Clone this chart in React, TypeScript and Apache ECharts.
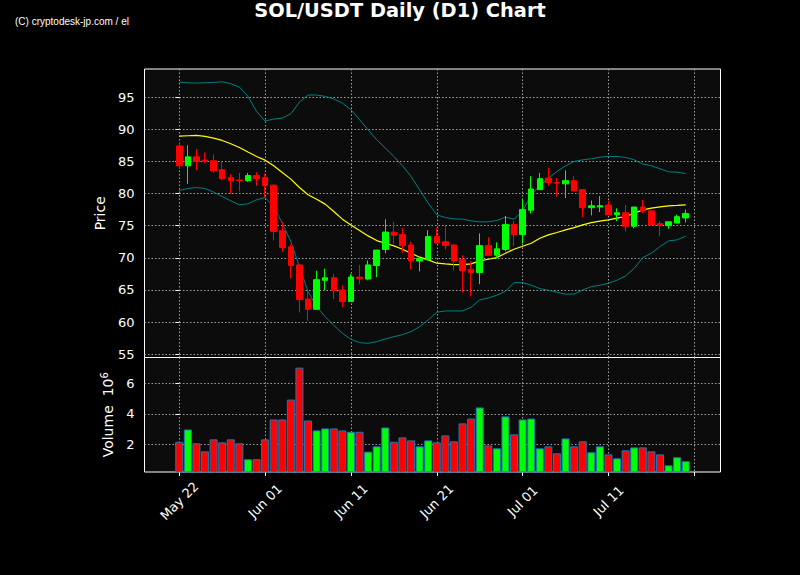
import React, { useEffect, useRef } from 'react';
import * as echarts from 'echarts';

// x tick positions (day index from May 22) and their labels
const tickDays = [0, 10, 20, 30, 40, 50];
const tickLabels = ['May 22', 'Jun 01', 'Jun 11', 'Jun 21', 'Jul 01', 'Jul 11'];

// Daily OHLC (USDT), May 22 .. Jul 20
const opens = [
  87.4, 84.3, 85.7, 85.2, 85.1, 83.7, 82.5, 82.1, 82.0, 82.8,
  82.5, 81.3, 74.2, 71.7, 68.9, 63.6, 62.0, 66.5, 66.9, 65.0,
  63.2, 67.0, 66.7, 68.8, 71.3, 74.0, 73.6, 72.0, 69.5, 69.7,
  73.3, 72.5, 72.0, 69.7, 68.2, 67.7, 71.9, 70.4, 71.3, 75.2,
  73.6, 77.4, 80.6, 82.4, 81.7, 81.5, 82.0, 80.6, 77.8, 77.9,
  78.2, 76.7, 77.0, 74.9, 77.9, 77.3, 75.3, 75.0, 75.4, 76.2,
];
const closes = [
  84.3, 85.7, 85.0, 85.0, 83.5, 82.3, 82.0, 82.0, 82.8, 82.3,
  81.2, 74.1, 71.6, 68.8, 63.5, 62.0, 66.6, 66.9, 64.9, 63.2,
  67.0, 66.8, 68.9, 71.2, 74.0, 73.5, 71.9, 69.5, 69.9, 73.3,
  72.3, 71.9, 69.5, 68.0, 67.7, 71.9, 70.4, 71.4, 75.2, 73.6,
  77.5, 80.7, 82.3, 81.7, 81.6, 82.0, 80.4, 77.8, 78.1, 78.1,
  76.7, 77.0, 74.9, 77.9, 77.3, 75.1, 75.0, 75.6, 76.4, 76.9,
];
const lows = [
  83.9, 81.5, 83.6, 84.7, 83.2, 82.1, 79.9, 80.3, 81.8, 81.2,
  79.3, 72.7, 70.9, 66.8, 61.5, 60.2, 62.0, 65.0, 63.6, 62.3,
  63.2, 65.9, 66.5, 67.0, 70.7, 72.2, 70.8, 68.2, 67.9, 69.7,
  72.3, 71.3, 68.0, 64.6, 64.0, 65.9, 70.4, 69.9, 71.0, 71.8,
  72.2, 76.9, 80.6, 81.2, 79.5, 79.3, 80.4, 76.3, 76.6, 77.1,
  76.7, 75.7, 74.1, 74.6, 76.9, 75.1, 73.4, 74.5, 75.4, 75.5,
];
const highs = [
  87.8, 87.5, 86.9, 86.4, 86.1, 84.9, 83.0, 83.2, 83.2, 83.3,
  83.1, 81.4, 75.6, 72.1, 69.0, 64.9, 68.0, 68.3, 67.5, 65.7,
  67.5, 68.9, 69.6, 71.2, 76.0, 75.6, 74.6, 72.5, 70.2, 74.3,
  74.6, 75.0, 72.0, 70.4, 69.5, 73.8, 73.2, 72.4, 76.5, 75.7,
  79.0, 82.7, 83.2, 84.0, 82.4, 83.6, 82.7, 80.7, 78.9, 79.6,
  78.9, 77.7, 78.2, 77.9, 79.0, 77.3, 75.7, 75.6, 76.7, 77.5,
];

// Bollinger bands (20) and the 20-day SMA
const bbUpper = [
  97.33, 97.22, 97.17, 97.22, 97.27, 97.38, 97.07, 96.55, 95.1, 92.76,
  91.26, 91.57, 91.73, 92.4, 94.22, 95.31, 95.31, 95.1, 94.7, 94.06,
  93.02, 91.47, 89.91, 88.35, 87.06, 85.76, 84.31, 82.65, 80.57, 78.5,
  76.68, 76.26, 76.06, 76.01, 75.75, 75.59, 75.6, 75.8, 76.32, 76.01,
  77.3, 79.8, 81.2, 82.39, 83.42, 84.31, 84.98, 85.24, 85.4, 85.66,
  85.76, 85.76, 85.6, 85.24, 84.57, 84.31, 83.84, 83.37, 83.32, 83.11,
];
const sma20 = [
  88.93, 88.98, 89.03, 88.88, 88.62, 88.25, 87.73, 87.16, 86.44, 85.76,
  85.19, 84.31, 83.27, 82.24, 80.93, 79.8, 79.12, 78.35, 77.2, 76.01,
  75.12, 74.24, 73.41, 72.68, 72.27, 71.86, 71.34, 70.72, 70.1, 69.68,
  69.16, 69.05, 68.95, 68.95, 69.05, 69.52, 69.78, 70.04, 70.72, 71.34,
  71.8, 72.27, 73.05, 73.57, 73.93, 74.35, 74.7, 75.12, 75.48, 75.7,
  75.9, 76.17, 76.42, 76.94, 77.46, 77.72, 77.93, 78.09, 78.14, 78.24,
];
const bbLower = [
  80.47, 80.78, 80.93, 80.78, 80.21, 79.53, 78.86, 78.24, 78.39, 79.02,
  79.38, 77.98, 75.38, 72.53, 68.63, 64.75, 62.41, 60.85, 59.5, 58.27,
  57.33, 56.81, 56.71, 56.96, 57.38, 57.74, 58.05, 58.52, 59.3, 60.34,
  61.54, 61.74, 61.74, 61.74, 62.31, 63.45, 63.76, 64.18, 64.8, 66.14,
  66.14, 65.74, 65.21, 64.96, 64.65, 64.34, 64.37, 65.0, 65.52, 65.74,
  66.05, 66.52, 67.19, 68.38, 70.04, 70.72, 71.75, 72.63, 72.79, 73.37,
];

// Volume in millions (x 10^6)
const volumes = [
  2.17, 2.98, 2.07, 1.54, 2.33, 2.13, 2.33, 2.07, 1.02, 1.02,
  2.33, 3.64, 3.64, 4.95, 7.05, 3.57, 2.92, 3.05, 3.05, 2.92,
  2.83, 2.83, 1.52, 1.87, 3.11, 2.17, 2.46, 2.26, 1.87, 2.26,
  2.13, 2.59, 2.2, 3.38, 3.7, 4.43, 1.93, 1.74, 3.84, 2.66,
  3.64, 3.7, 1.74, 1.87, 1.41, 2.39, 1.87, 2.2, 1.48, 1.87,
  1.34, 1.08, 1.61, 1.8, 1.8, 1.54, 1.34, 0.62, 1.15, 0.89,
];

const UP = '#00ff00';
const DOWN = '#ff0000';
const FONT = 'DejaVu Sans';

export default function App() {
  const ref = useRef<HTMLDivElement>(null);

  useEffect(() => {
    document.body.style.margin = '0';
    document.body.style.background = '#000';
    const chart = echarts.init(ref.current as HTMLDivElement, null, { renderer: 'svg' });

    const days = opens.map((_, i) => i);
    const candleData = days.map((i) => [i, opens[i], closes[i], lows[i], highs[i]]);
    const volData = days.map((i) => ({
      value: [i, volumes[i]],
      itemStyle: { color: closes[i] >= opens[i] ? UP : DOWN },
    }));
    const line = (arr: number[]) => days.map((i) => [i, arr[i]]);

    const splitLine = {
      show: true,
      showMinLine: false,
      showMaxLine: false,
      lineStyle: { color: '#a0a0a0', width: 1, type: [1.5, 2] as any },
    };
    const xLabelFmt = (v: number) => {
      const r = Math.round(v);
      if (Math.abs(v - r) > 1e-6) return '';
      const k = tickDays.indexOf(r);
      return k >= 0 ? tickLabels[k] : '';
    };
    const yFmt = (step: number) => (v: number) => {
      const q = v / step;
      return Math.abs(q - Math.round(q)) < 1e-6 ? String(Math.round(v)) : '';
    };
    const gridBase = {
      left: 144.5,
      width: 576,
      show: true,
      backgroundColor: '#0c0c0c',
      borderColor: '#ffffff',
      borderWidth: 1,
      containLabel: false,
    };
    const xBase = {
      type: 'value',
      min: -4.05,
      max: 63.05,
      splitNumber: 7,
      minInterval: 10,
      maxInterval: 10,
      axisLine: { show: false },
      splitLine,
    };

    const option: any = {
      animation: false,
      backgroundColor: '#000000',
      textStyle: { fontFamily: FONT },
      grid: [
        { ...gridBase, top: 69, height: 288.5 },
        { ...gridBase, top: 357.5, height: 114.5 },
      ],
      xAxis: [
        {
          ...xBase,
          gridIndex: 0,
          axisTick: { show: false },
          axisLabel: { show: false },
        },
        {
          ...xBase,
          gridIndex: 1,
          axisTick: { show: true, length: 4, lineStyle: { color: '#ffffff' } },
          axisLabel: {
            show: true,
            rotate: 45,
            margin: 29,
            align: 'center',
            verticalAlign: 'middle',
            color: '#ffffff',
            fontSize: 13,
            fontFamily: FONT,
            showMinLabel: false,
            showMaxLabel: false,
            formatter: xLabelFmt,
          },
        },
      ],
      yAxis: [
        {
          type: 'value',
          gridIndex: 0,
          min: 54.5,
          max: 99.36,
          splitNumber: 9,
          minInterval: 5,
          maxInterval: 5,
          name: 'Price',
          nameLocation: 'middle',
          nameGap: 31,
          nameRotate: 90,
          nameTextStyle: { color: '#ffffff', fontSize: 14, fontFamily: FONT },
          axisLine: { show: false },
          axisTick: { show: true, length: 4, lineStyle: { color: '#ffffff' } },
          axisLabel: {
            color: '#ffffff',
            fontSize: 13,
            fontFamily: FONT,
            margin: 10,
            showMinLabel: false,
            showMaxLabel: false,
            formatter: yFmt(5),
          },
          splitLine,
        },
        {
          type: 'value',
          gridIndex: 1,
          min: 0.18,
          max: 7.72,
          splitNumber: 4,
          minInterval: 2,
          maxInterval: 2,
          name: '{a|Volume  10}{b|6}',
          nameLocation: 'middle',
          nameGap: 25,
          nameRotate: 90,
          nameTextStyle: {
            color: '#ffffff',
            fontSize: 14,
            fontFamily: FONT,
            rich: {
              a: { color: '#ffffff', fontSize: 14, fontFamily: FONT, lineHeight: 18 },
              b: {
                color: '#ffffff',
                fontSize: 10,
                fontFamily: FONT,
                lineHeight: 10,
                verticalAlign: 'top',
              },
            },
          },
          axisLine: { show: false },
          axisTick: { show: true, length: 4, lineStyle: { color: '#ffffff' } },
          axisLabel: {
            color: '#ffffff',
            fontSize: 13,
            fontFamily: FONT,
            margin: 10,
            showMinLabel: false,
            showMaxLabel: false,
            formatter: yFmt(2),
          },
          splitLine,
        },
      ],
      graphic: [
        {
          type: 'text',
          x: 400,
          y: 10,
          style: {
            text: 'SOL/USDT Daily (D1) Chart',
            fill: '#ffffff',
            fontSize: 19.4,
            fontWeight: 'bold',
            fontFamily: FONT,
            align: 'center',
            verticalAlign: 'middle',
          },
        },
        {
          type: 'text',
          x: 15,
          y: 21,
          style: {
            text: '(C) cryptodesk-jp.com / el',
            fill: '#ffffff',
            fontSize: 10,
            fontFamily: "'Liberation Sans', Arial, sans-serif",
            align: 'left',
            verticalAlign: 'middle',
          },
        },
      ],
      series: [
        {
          type: 'candlestick',
          xAxisIndex: 0,
          yAxisIndex: 0,
          data: candleData,
          encode: { x: 0, y: [1, 2, 3, 4] },
          barWidth: 6,
          clip: true,
          itemStyle: {
            color: UP,
            color0: DOWN,
            borderColor: UP,
            borderColor0: DOWN,
            borderWidth: 1,
          },
          z: 3,
        },
        {
          type: 'line',
          name: 'BB upper',
          xAxisIndex: 0,
          yAxisIndex: 0,
          data: line(bbUpper),
          symbol: 'none',
          lineStyle: { color: '#008080', width: 1 },
          z: 2,
        },
        {
          type: 'line',
          name: 'SMA20',
          xAxisIndex: 0,
          yAxisIndex: 0,
          data: line(sma20),
          symbol: 'none',
          lineStyle: { color: '#ffff00', width: 1.2 },
          z: 2,
        },
        {
          type: 'line',
          name: 'BB lower',
          xAxisIndex: 0,
          yAxisIndex: 0,
          data: line(bbLower),
          symbol: 'none',
          lineStyle: { color: '#008080', width: 1 },
          z: 2,
        },
        {
          type: 'bar',
          name: 'Volume',
          xAxisIndex: 1,
          yAxisIndex: 1,
          data: volData,
          barWidth: 8,
          clip: true,
          itemStyle: { borderColor: '#1f77b4', borderWidth: 1 },
        },
      ],
    };

    chart.setOption(option);
    return () => chart.dispose();
  }, []);

  return (
    <div
      ref={ref}
      style={{ position: 'absolute', left: 0, top: 0, width: 800, height: 575, background: '#000' }}
    />
  );
}
